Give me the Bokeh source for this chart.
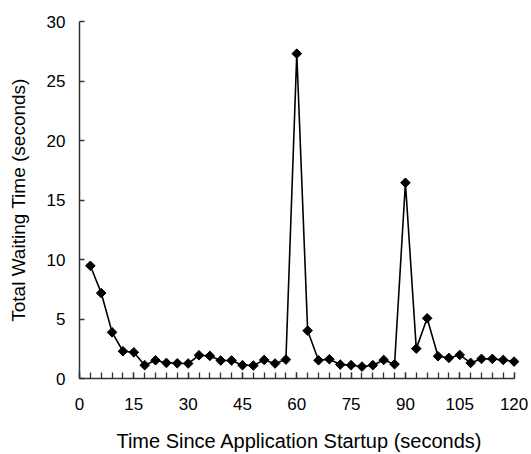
import numpy as np
from bokeh.plotting import figure
from bokeh.models import Range1d, SingleIntervalTicker, ColumnDataSource
from bokeh.embed import file_html
from bokeh.resources import INLINE

# Data
time_s = [3, 6, 9, 12, 15, 18, 21, 24, 27, 30, 33, 36, 39, 42, 45, 48, 51, 54, 57, 60,
          63, 66, 69, 72, 75, 78, 81, 84, 87, 90, 93, 96, 99, 102, 105, 108, 111, 114, 117, 120]
waiting = [9.47, 7.18, 3.88, 2.29, 2.20, 1.12, 1.53, 1.31, 1.28, 1.26,
           1.95, 1.90, 1.51, 1.51, 1.12, 1.09, 1.56, 1.26, 1.59, 27.3,
           4.02, 1.53, 1.62, 1.17, 1.12, 1.00, 1.12, 1.56, 1.20, 16.45,
           2.51, 5.06, 1.87, 1.73, 1.98, 1.31, 1.65, 1.65, 1.56, 1.42]
x_title = "Time Since Application Startup (seconds)"
y_title = "Total Waiting Time (seconds)"

src = ColumnDataSource(dict(x=time_s, y=waiting))

p = figure(width=531, height=454, output_backend="svg", toolbar_location=None,
           x_range=Range1d(0, 121.5), y_range=Range1d(0, 30),
           min_border_left=79, min_border_right=12, min_border_top=21, min_border_bottom=75)
p.outline_line_color = None
p.xgrid.visible = False
p.ygrid.visible = False
p.background_fill_color = "white"
p.border_fill_color = "white"

p.line("x", "y", source=src, line_color="black", line_width=1.6)
p.scatter("x", "y", source=src, marker="square", angle=np.pi / 4, size=6.8,
          fill_color="black", line_color="black")

font = "Liberation Sans"
for ax in (p.xaxis[0], p.yaxis[0]):
    ax.axis_line_color = "#333333"
    ax.axis_line_width = 1.5
    ax.major_tick_line_color = "#333333"
    ax.major_tick_line_width = 1.3
    ax.minor_tick_line_color = "#333333"
    ax.minor_tick_line_width = 1.3
    ax.major_tick_out = 0
    ax.minor_tick_out = 0
    ax.major_label_text_font = font
    ax.major_label_text_font_size = "17px"
    ax.major_label_text_color = "black"
    ax.axis_label_text_font = font
    ax.axis_label_text_font_style = "normal"
    ax.axis_label_text_color = "black"

xa = p.xaxis[0]
xa.ticker = SingleIntervalTicker(interval=15, num_minor_ticks=5)
xa.bounds = (0, 120)
xa.major_tick_in = 6
xa.minor_tick_in = 6
xa.major_label_standoff = 19
xa.axis_label = x_title
xa.axis_label_text_font_size = "20px"
xa.axis_label_standoff = 17

ya = p.yaxis[0]
ya.ticker = SingleIntervalTicker(interval=5, num_minor_ticks=0)
ya.major_tick_in = 5
ya.minor_tick_in = 0
ya.major_label_standoff = 14
ya.axis_label = y_title
ya.axis_label_text_font_size = "19px"
ya.axis_label_standoff = 15

open("out.html", "w").write(file_html(p, INLINE))
